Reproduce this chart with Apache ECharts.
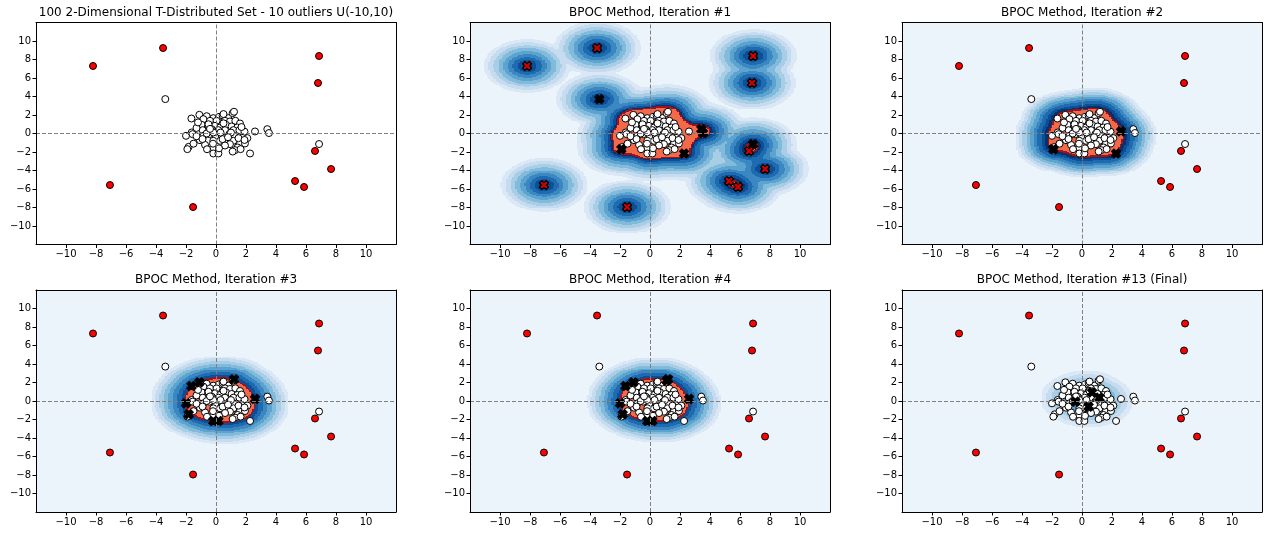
<!DOCTYPE html>
<html><head><meta charset="utf-8">
<script src="https://cdn.jsdelivr.net/npm/echarts@6/dist/echarts.min.js"></script>
<style>html,body{margin:0;padding:0;background:#fff}#c{width:1270px;height:536px}</style>
</head><body><div id="c"></div>
<script>
// ---------------- data ----------------
const inlierX = [-1.11,-0.62,-0.18,0.20,0.44,0.82,1.11,1.20,-1.64,-0.84,-0.40,0.04,0.60,0.93,1.29,1.60,
  -0.96,-0.51,-0.07,0.27,0.67,1.04,1.42,-0.89,-0.29,0.16,0.60,1.16,1.56,2.60,3.42,3.53,
  -2.00,-1.62,-1.56,-0.84,-0.44,0.00,0.38,0.89,1.27,1.78,2.09,-0.62,-0.18,
  -0.73,-0.18,0.27,0.71,1.16,1.60,1.93,-1.07,0.44,0.93,1.44,-1.82,-1.91,-0.18,
  -0.18,0.16,1.27,1.64,2.27,1.11,
  -0.50,0.50,-1.30,1.90,-0.20,0.60,-1.30,1.50,0.30,-0.90,1.00,-0.40,0.80,0.20,-1.20,1.90,-0.60,0.50,1.70,-1.50,
  -3.38,6.87];
const inlierY = [2.02,1.87,1.66,1.80,1.95,1.66,2.20,2.35,1.62,1.55,1.37,1.37,1.37,1.30,1.37,1.08,
  0.94,0.83,0.83,0.65,0.94,0.76,0.65,0.36,0.47,0.36,0.36,0.36,0.36,0.22,0.47,0.05,
  -0.25,0.11,-0.07,-0.25,-0.07,-0.36,-0.25,-0.07,-0.36,-0.43,-0.50,0.00,0.11,
  -1.23,-0.79,-0.79,-0.79,-0.79,-1.08,-1.08,-0.72,-0.61,-1.15,-1.51,-1.44,-1.69,-1.51,
  -2.16,-2.16,-1.80,-1.69,-2.16,-1.95,
  1.00,1.10,0.60,0.20,-1.10,-1.30,-0.30,-0.50,0.10,-0.60,0.10,0.50,-0.40,-1.60,1.20,-0.70,-1.70,2.10,0.70,-1.10,
  3.72,-1.14];
const outlierX = [-8.2,-3.53,6.87,6.80,-7.07,-1.53,5.27,5.87,6.60,7.67];
const outlierY = [7.30,9.24,8.38,5.46,-5.57,-7.95,-5.14,-5.78,-1.89,-3.84];
const titles = ['100 2-Dimensional T-Distributed Set - 10 outliers U(-10,10)',
  'BPOC Method, Iteration #1','BPOC Method, Iteration #2',
  'BPOC Method, Iteration #3','BPOC Method, Iteration #4','BPOC Method, Iteration #13 (Final)'];
const tickValues = [-10,-8,-6,-4,-2,0,2,4,6,8,10];
const axisMin = -12, axisMax = 12;

// ---------------- styling / method parameters ----------------
const COLORS = ['#ebf3fb','#dae8f5','#c6dbef','#a7cee4','#82badb','#5ca3d0','#3b87c2','#1f6bb0','#0b5097','#08306b',
  '#f5694b','#a3121a','#ea5a42'];
const densitySettings = [
  null,
  {mode:'dist', s:0.55, rMax:2.9, nb:9, redT:1.12, innerH:0.8, innerFrac:0.93, xMax:2.9},
  {mode:'kde', cx:0.3, cy:0, h:0.6, rAct:3.1, qR:0.90, qIn:0.04, W:2.2, nb:9, top:9, xIn:0.15, xOut:0.3},
  {mode:'kde', cx:0.3, cy:0, h:1.0, rAct:3.0, qR:0.72, qIn:0, W:2.3, nb:8, top:8, xIn:0.15, xOut:0.3},
  {mode:'kde', cx:0.3, cy:0, h:1.0, rAct:3.0, qR:0.70, qIn:0, W:2.2, nb:8, top:8, xIn:0.15, xOut:0.3},
  {mode:'kde', cx:0.3, cy:0, h:0.8, rAct:2.0, qR:0.20, qIn:0, W:2.2, nb:6, top:6, xIn:0.05, xOut:0.05}
];
const STEP = 0.1, NS = Math.round((axisMax-axisMin)/STEP);

const inPts = inlierX.map((x,i)=>[x, inlierY[i]]);
const outPts = outlierX.map((x,i)=>[x, outlierY[i]]);
const allPts = inPts.map(p=>({p, out:false})).concat(outPts.map(p=>({p, out:true})));

function sumAt(x, y, pts, h){
  const a = 1/(2*h*h); let s = 0;
  for (const q of pts){ const dx=x-q[0], dy=y-q[1]; s += Math.exp(-a*(dx*dx+dy*dy)); }
  return s;
}
function sumField(pts, h){
  const a = 1/(2*h*h), cut = 25/a;
  const F = new Float64Array(NS*NS);
  for (let j=0;j<NS;j++){
    const y = axisMin+(j+0.5)*STEP;
    for (let i=0;i<NS;i++){
      const x = axisMin+(i+0.5)*STEP; let s=0;
      for (let k=0;k<pts.length;k++){ const dx=x-pts[k][0], dy=y-pts[k][1]; const d2=dx*dx+dy*dy; if (d2<cut) s+=Math.exp(-a*d2); }
      F[j*NS+i]=s;
    }
  }
  return F;
}
function maxOf(F){ let m=0; for (let k=0;k<F.length;k++) if (F[k]>m) m=F[k]; return m; }
// density level enclosing a given fraction of the total mass (highest-density region)
function massLevel(F, q){
  const s = Float64Array.from(F).sort(); let tot=0; for (let k=0;k<s.length;k++) tot+=s[k];
  let acc=0; for (let k=s.length-1;k>=0;k--){ acc+=s[k]; if (acc>=q*tot) return s[k]; }
  return 0;
}
const cellOf = v => Math.max(0, Math.min(NS-1, Math.floor((v-axisMin)/STEP)));

function computePlot(cfg){
  let codes = new Int8Array(NS*NS);
  const xFlags = allPts.map(()=>false);
  if (cfg.mode==='dist'){
    const pts = allPts.map(o=>o.p);
    const S = sumField(pts, cfg.s);
    const F = sumField(pts, cfg.innerH); const fmax = maxOf(F);
    const a = 1/(2*cfg.s*cfg.s), bw = cfg.rMax/cfg.nb;
    for (let k=0;k<NS*NS;k++){
      const s = S[k]; let c;
      if (s >= cfg.redT) c = (F[k]/fmax >= cfg.innerFrac) ? 12 : 10;
      else { const D = s>=1 ? 0 : Math.sqrt(-Math.log(s)/a); c = D>=cfg.rMax ? 0 : cfg.nb - Math.floor(D/bw); }
      codes[k]=c;
    }
    allPts.forEach((o,idx)=>{ xFlags[idx] = sumAt(o.p[0], o.p[1], pts, cfg.s) < cfg.xMax; });
  } else {
    const act = inPts.filter(p=>Math.hypot(p[0]-cfg.cx, p[1]-cfg.cy) < cfg.rAct);
    const F = sumField(act, cfg.h);
    const fR = massLevel(F, cfg.qR), fI = cfg.qIn ? massLevel(F, cfg.qIn) : Infinity;
    for (let k=0;k<NS*NS;k++) codes[k] = F[k]>=fI ? 12 : (F[k]>=fR ? 10 : 0);
    // boundary cells of the high-density (red) region
    const bnd = []; let i0=NS, i1=0, j0=NS, j1=0;
    for (let j=0;j<NS;j++) for (let i=0;i<NS;i++){
      if (codes[j*NS+i]<10) continue;
      if (i<i0) i0=i; if (i>i1) i1=i; if (j<j0) j0=j; if (j>j1) j1=j;
      if ((i>0 && codes[j*NS+i-1]<10) || (i<NS-1 && codes[j*NS+i+1]<10) ||
          (j>0 && codes[(j-1)*NS+i]<10) || (j<NS-1 && codes[(j+1)*NS+i]<10)) bnd.push([i,j]);
    }
    const distTo = (i,j) => { let m=Infinity; for (const b of bnd){ const dx=i-b[0], dy=j-b[1]; const d=dx*dx+dy*dy; if (d<m) m=d; } return Math.sqrt(m)*STEP; };
    const R = Math.ceil(cfg.W/STEP)+1, bw = cfg.W/cfg.nb;
    for (let j=Math.max(0,j0-R); j<=Math.min(NS-1,j1+R); j++) for (let i=Math.max(0,i0-R); i<=Math.min(NS-1,i1+R); i++){
      const k=j*NS+i; if (codes[k]>=10) continue;
      const d = distTo(i,j); if (d>=cfg.W) continue;
      const band = Math.max(1, cfg.nb - Math.floor(d/bw));
      codes[k] = cfg.nb===1 ? cfg.top : Math.round(1 + (band-1)*(cfg.top-1)/(cfg.nb-1));
    }
    allPts.forEach((o,idx)=>{
      if (o.out || act.indexOf(o.p)<0) return;
      const ci = cellOf(o.p[0]), cj = cellOf(o.p[1]);
      const inside = codes[cj*NS+ci]>=10, d = distTo(ci,cj);
      xFlags[idx] = inside ? d <= cfg.xIn : d <= cfg.xOut;
    });
  }
  // contour outlines
  const base = codes.slice();
  const nbrs = [[1,0],[-1,0],[0,1],[0,-1],[0,2],[0,-2]];
  for (let j=0;j<NS;j++) for (let i=0;i<NS;i++){
    const k=j*NS+i, c=base[k]; if (c<10) continue;
    for (const [di,dj] of nbrs){
      const ni=i+di, nj=j+dj; if (ni<0||nj<0||ni>=NS||nj>=NS) continue;
      const nc = base[nj*NS+ni];
      if (nc<10 || (c===12 && nc!==12)){ codes[k]=11; break; }
    }
  }
  const runs=[];
  for (let j=0;j<NS;j++){
    let i=0;
    while(i<NS){
      const c=codes[j*NS+i]; let e=i;
      while(e+1<NS && codes[j*NS+e+1]===c) e++;
      if (c!==0) runs.push([axisMin+i*STEP, axisMin+(e+1)*STEP, axisMin+(j+0.5)*STEP, c]);
      i=e+1;
    }
  }
  return {runs, xFlags};
}

// ---------------- layout ----------------
const gridLefts = [36, 470, 902], gridTops = [22.5, 290], gridW = 360, gridH = 222;
const fmtTick = v => v<0 ? '\u2212'+Math.abs(v) : String(v);
const FONT = 'DejaVu Sans';
const X_PATH = 'path://M0,2.6L2.6,0L5,2.4L7.4,0L10,2.6L7.6,5L10,7.4L7.4,10L5,7.6L2.6,10L0,7.4L2.4,5Z';

const option = {animation:false, backgroundColor:'#fff', title:[], grid:[], xAxis:[], yAxis:[], series:[]};

for (let g=0; g<6; g++){
  const left = gridLefts[g%3], top = gridTops[Math.floor(g/3)];
  option.title.push({text:titles[g], left:left+gridW/2, top:top-16, textAlign:'center', padding:0,
    textStyle:{fontSize:12, fontWeight:'normal', fontFamily:FONT, color:'#000'}});
  option.grid.push({left, top, width:gridW, height:gridH, show:true, borderWidth:0,
    backgroundColor: g===0 ? '#ffffff' : COLORS[0]});
  const lineStyle = {color:'#000', width:1};
  const mainAxis = pos => ({type:'value', gridIndex:g, min:axisMin, max:axisMax, interval:2, position:pos, z:10,
    axisLine:{show:true, onZero:false, lineStyle},
    axisTick:{show:true, inside:false, length:3.5, lineStyle, customValues:tickValues},
    axisLabel:{show:true, customValues:tickValues, formatter:fmtTick, fontSize:10, color:'#000', fontFamily:FONT, margin:5},
    splitLine:{show:false}});
  const frameAxis = pos => ({type:'value', gridIndex:g, min:axisMin, max:axisMax, interval:2, position:pos, z:10,
    axisLine:{show:true, onZero:false, lineStyle}, axisTick:{show:false}, axisLabel:{show:false}, splitLine:{show:false}});
  option.xAxis.push(mainAxis('bottom'), frameAxis('top'));
  option.yAxis.push(mainAxis('left'), frameAxis('right'));
  const xi = 2*g, yi = 2*g;

  let xFlags = allPts.map(()=>false);
  const cfg = densitySettings[g];
  if (cfg){
    const res = computePlot(cfg);
    xFlags = res.xFlags;
    option.series.push({type:'custom', xAxisIndex:xi, yAxisIndex:yi, z:1, silent:true, clip:true,
      data:res.runs,
      renderItem:(params, api)=>{
        const p0 = api.coord([api.value(0), api.value(2)+STEP/2]);
        const p1 = api.coord([api.value(1), api.value(2)-STEP/2]);
        const X0=Math.round(p0[0]), X1=Math.round(p1[0]), Y0=Math.round(p0[1]), Y1=Math.round(p1[1]);
        if (X1<=X0 || Y1<=Y0) return null;
        return {type:'rect', shape:{x:X0, y:Y0, width:X1-X0, height:Y1-Y0}, style:{fill:COLORS[api.value(3)]}};
      }});
  }
  option.series.push({type:'line', xAxisIndex:xi, yAxisIndex:yi, z:2, data:[], silent:true,
    markLine:{silent:true, symbol:['none','none'], label:{show:false}, animation:false,
      lineStyle:{color:'#808080', type:[4,2], width:1}, emphasis:{disabled:true},
      data:[{xAxis:0},{yAxis:0}]}});
  const circIn = [], circOut = [], xs = [];
  allPts.forEach((o,idx)=>{
    if (xFlags[idx]) xs.push({value:o.p, itemStyle:{color: o.out ? '#d40000' : '#000000'}});
    else (o.out ? circOut : circIn).push(o.p);
  });
  option.series.push({type:'scatter', xAxisIndex:xi, yAxisIndex:yi, z:3, silent:true, symbol:'circle', symbolSize:7,
    itemStyle:{color:'#ffffff', borderColor:'#000', borderWidth:1, opacity:1}, data:circIn});
  option.series.push({type:'scatter', xAxisIndex:xi, yAxisIndex:yi, z:3, silent:true, symbol:'circle', symbolSize:7,
    itemStyle:{color:'#ff0000', borderColor:'#000', borderWidth:1, opacity:1}, data:circOut});
  option.series.push({type:'scatter', xAxisIndex:xi, yAxisIndex:yi, z:4, silent:true, symbol:X_PATH, symbolSize:9,
    itemStyle:{borderColor:'#000', borderWidth:1.2, opacity:1}, data:xs});
}

const chart = echarts.init(document.getElementById('c'), null, {renderer:'canvas'});
chart.setOption(option);
</script></body></html>
